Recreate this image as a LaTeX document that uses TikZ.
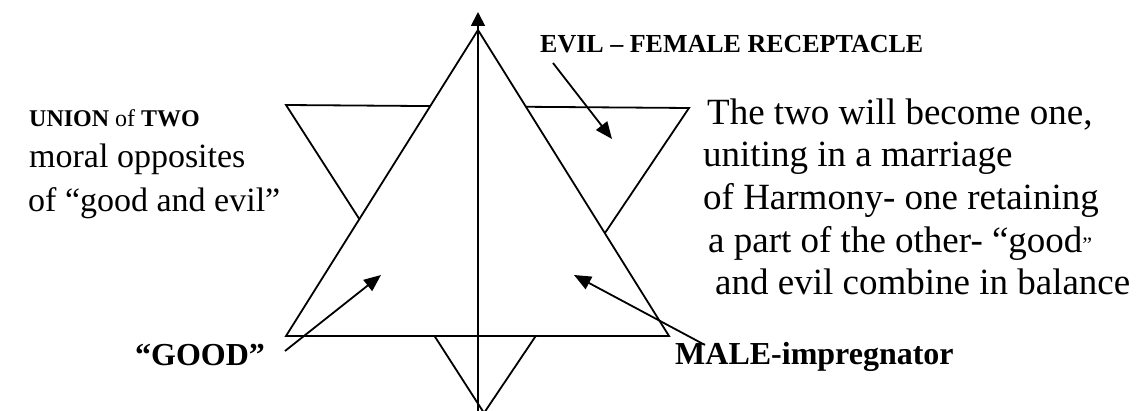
\documentclass[tikz,border=0pt]{standalone}
\usepackage{fontspec}
\setmainfont{Liberation Serif}
\usetikzlibrary{arrows.meta}
\tikzset{
  ln/.style={line width=1.8pt, line join=miter},
  pointer/.style={line width=1.8pt, -{Triangle[length=17pt,width=14pt]}},
  big/.style={inner sep=0pt, anchor=base west, font=\fontsize{37}{42}\selectfont},
  mid/.style={inner sep=0pt, anchor=base west, font=\fontsize{34}{42}\selectfont},
  lbl/.style={inner sep=0pt, anchor=base west, font=\fontsize{32}{36}\selectfont\bfseries},
  small/.style={inner sep=0pt, anchor=base west, font=\fontsize{24}{28}\selectfont},
}
\begin{document}
\begin{tikzpicture}[x=1pt,y=-1pt]
\useasboundingbox[fill=white] (0,0) rectangle (1138,411);
% inverted triangle
\coordinate (D) at (286,105);
\coordinate (E) at (689,108);
\coordinate (F) at (484,413);
\draw[ln] (D) -- (E) -- (F) -- cycle;
% upright triangle
\coordinate (A) at (478,30);
\coordinate (B) at (286,336);
\coordinate (C) at (669,336);
\draw[ln, fill=white] (A) -- (B) -- (C) -- cycle;
% vertical axis
\coordinate (axb) at (478,413);
\coordinate (axt) at (478,12);
\draw[line width=1.8pt, -{Triangle[length=14pt,width=14pt]}] (axb) -- (axt);
% texts
\node[small] (union) at (29,127) {\textbf{UNION} of \textbf{TWO}};
\node[mid] (moral) at (29,168) {moral opposites};
\node[mid] (ofge) at (28,212) {of “good and evil”};
\node[small, font=\fontsize{26}{30}\selectfont\bfseries] (evil) at (540,53) {EVIL – FEMALE RECEPTACLE};
\node[big] (r1) at (707,125) {The two will become one,};
\node[big] (r2) at (703,167) {uniting in a marriage};
\node[big] (r3) at (703,210) {of Harmony- one retaining};
\node[big] (r4) at (708,253) {a part of the other- “good{\fontsize{22}{24}\selectfont ”}};
\node[big] (r5) at (715,295) {and evil combine in balance};
\node[lbl] (good) at (135,366) {“GOOD”};
\node[lbl] (male) at (675,365) {MALE-impregnator};
% arrow endpoints
\coordinate (evs) at (553,63);
\coordinate (eve) at (612,139);
\coordinate (gds) at (285,351);
\coordinate (gde) at (381,275);
\coordinate (mls) at (705,345);
\coordinate (mle) at (574,275);
\draw[pointer] (evs) -- (eve);
\draw[pointer] (gds) -- (gde);
\draw[pointer] (mls) -- (mle);
\end{tikzpicture}
\end{document}
